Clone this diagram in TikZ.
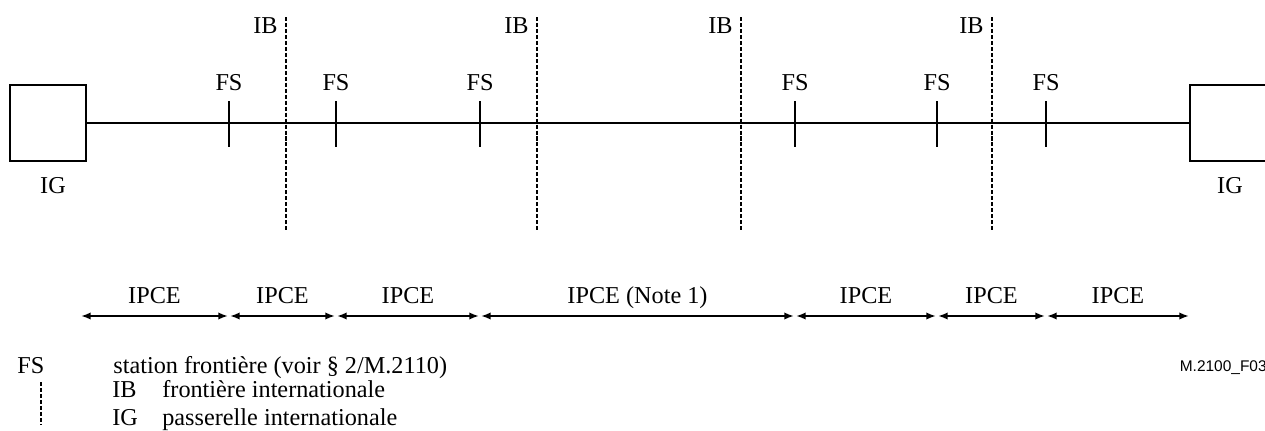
\documentclass[tikz,border=0pt]{standalone}
\usepackage{fontspec}
\setmainfont{Liberation Serif}
\newfontfamily\refsans{Liberation Sans}
\usetikzlibrary{arrows.meta}

\begin{document}
\begin{tikzpicture}[x=0.02cm, y=-0.02cm,
		lab/.style={font=\fontsize{13.8}{16}\selectfont, inner sep=0pt},
		gate/.style={draw, line width=0.6pt, minimum size=1.52cm, inner sep=0pt},
		link/.style={line width=1.2pt},
		border/.style={line width=1.2pt, dash pattern=on 2.3pt off 1.1pt},
		span/.style={line width=1.2pt, {Latex[length=5.6pt,width=4.2pt]}-{Latex[length=5.6pt,width=4.2pt]}, shorten <=0.5pt, shorten >=0.5pt}]
		\useasboundingbox (0,0) rectangle (1265,430);
		
		% Gateways
		\node[gate] (ig1) at (48,123) {};
		\node[gate] (ig2) at (1228,123) {};
		\node[lab, anchor=base] (iglab1) at (53,193) {IG};
		\node[lab, anchor=base] (iglab2) at (1230,193) {IG};
		
		% Link
		\draw[link] (ig1.east) -- (ig2.west);
		
		% Frontier stations
		\foreach \i/\x in {1/229, 2/336, 3/480, 4/795, 5/937, 6/1046} {
			\coordinate (fs\i) at (\x,123);
			\node[lab, anchor=base] (fslab\i) at (\x,90) {FS};
			\draw[link] (fs\i) +(0,-22) -- +(0,24);
		}
		
		% International borders
		\foreach \i/\x in {1/286, 2/537, 3/741, 4/992} {
			\coordinate (ibtop\i) at (\x,17);
			\coordinate (ibbot\i) at (\x,230);
			\draw[border] (ibtop\i) -- (ibbot\i);
			\node[lab, anchor=base east] (iblab\i) at (\x-8,33) {IB};
		}
		
		% IPCE spans
		\foreach \i/\x in {0/80, 1/229, 2/336, 3/480, 4/795, 5/937, 6/1046, 7/1190}
			\coordinate (s\i) at (\x,316);
		\foreach \a/\b/\t in {0/1/IPCE, 1/2/IPCE, 2/3/IPCE, 3/4/IPCE (Note 1), 4/5/IPCE, 5/6/IPCE, 6/7/IPCE}
			\draw[span] (s\a) -- (s\b) node[lab, midway, anchor=base, yshift=0.26cm] (span\a) {\t};
		
		% Key
		\node[lab, anchor=base west] (keyfs) at (17,373) {FS};
		\node[lab, anchor=base west] (keyfstxt) at (113,373) {station frontière (voir § 2/M.2110)};
		\coordinate (keyibtop) at (41,382);
		\coordinate (keyibbot) at (41,425);
		\draw[border] (keyibtop) -- (keyibbot);
		\node[lab, anchor=base west] (keyib) at (112,397) {IB};
		\node[lab, anchor=base west] (keyibtxt) at (162,397) {frontière internationale};
		\node[lab, anchor=base west] (keyig) at (112,425) {IG};
		\node[lab, anchor=base west] (keyigtxt) at (162,425) {passerelle internationale};
		
		\node[font=\refsans\fontsize{8.8}{10.5}\selectfont, inner sep=0pt, anchor=base east] (figref) at (1267,371) {M.2100\_F03};
	\end{tikzpicture}
\end{document}
